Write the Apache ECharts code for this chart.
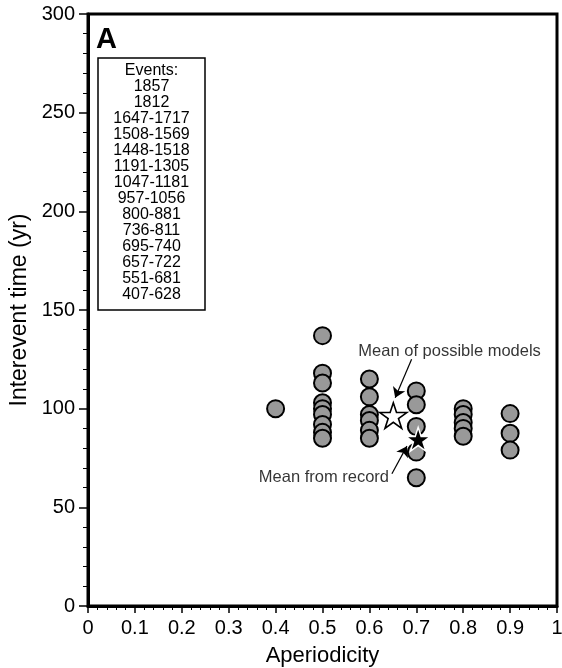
<!DOCTYPE html>
<html>
<head>
<meta charset="utf-8">
<script src="https://cdn.jsdelivr.net/npm/echarts@6/dist/echarts.min.js"></script>
<style>
html,body{margin:0;padding:0;background:#fff;}
#c{width:562px;height:668px;}
</style>
</head>
<body>
<div id="c"></div>
<script>
// ---- data ----
const aperiodicity = [0.4,
  0.5,0.5,0.5,0.5,0.5,0.5,0.5,0.5,0.5,
  0.6,0.6,0.6,0.6,0.6,0.6,
  0.7,0.7,0.7,0.7,0.7,
  0.8,0.8,0.8,0.8,0.8,
  0.9,0.9,0.9];
const intereventTime = [100,
  137,118,113,103,100,97,92,88,85,
  115,106,97,94,89,85,
  109,102,91,78,65,
  100,97,93,90,86,
  97.5,87.5,79];
const meanModels = [0.651, 96.5];
const meanRecord = [0.704, 84.5];
const eventsTitle = 'Events:';
const events = ['1857','1812','1647-1717','1508-1569','1448-1518','1191-1305','1047-1181',
  '957-1056','800-881','736-811','695-740','657-722','551-681','407-628'];
const xTicks = [0,0.1,0.2,0.3,0.4,0.5,0.6,0.7,0.8,0.9,1];
const yTicks = [0,50,100,150,200,250,300];
const annotationText = ['Mean of possible models','Mean from record'];
const annotationPos = [[0.771,128.9],[0.503,65.2]];
const arrowModels = [[0.690,125],[0.655,105.5]];
const arrowRecord = [[0.648,67],[0.680,81]];

const FONT = 'Liberation Sans, Arial, Helvetica, sans-serif';
const starPath = 'path://M100 0L122.45 69.1L195.1 69.1L136.3 111.8L158.8 180.9L100 138.2L41.2 180.9L63.7 111.8L4.9 69.1L77.55 69.1Z';

const chart = echarts.init(document.getElementById('c'), null, {renderer:'canvas'});

const pts = aperiodicity.map((x,i)=>[x, intereventTime[i]]);

chart.setOption({
  animation:false,
  backgroundColor:'#fff',
  grid:{left:88, right:5, top:14, bottom:62, show:true, borderColor:'#000', borderWidth:3,
        containLabel:false, outerBoundsMode:'none'},
  xAxis:{
    type:'value', min:xTicks[0], max:xTicks[xTicks.length-1], interval:0.1,
    name:'Aperiodicity', nameLocation:'middle', nameGap:39,
    nameTextStyle:{fontFamily:FONT, fontSize:22, color:'#000'},
    axisLine:{show:true, lineStyle:{color:'#000', width:3}},
    axisTick:{show:true, length:7, lineStyle:{color:'#000', width:1.5}},
    minorTick:{show:true, splitNumber:5, length:4, lineStyle:{color:'#000', width:1}},
    axisLabel:{fontFamily:FONT, fontSize:20, color:'#000', margin:12,
      formatter:v=>String(+v.toFixed(1))},
    splitLine:{show:false}
  },
  yAxis:{
    type:'value', min:yTicks[0], max:yTicks[yTicks.length-1], interval:50,
    name:'Interevent time (yr)', nameLocation:'middle', nameGap:53,
    nameTextStyle:{fontFamily:FONT, fontSize:23, color:'#000'},
    axisLine:{show:true, lineStyle:{color:'#000', width:3}},
    axisTick:{show:true, length:9, lineStyle:{color:'#000', width:1.5}},
    minorTick:{show:true, splitNumber:5, length:5, lineStyle:{color:'#000', width:1}},
    axisLabel:{fontFamily:FONT, fontSize:20, color:'#000', margin:13},
    splitLine:{show:false}
  },
  series:[
    {
      type:'scatter', name:'models', data:pts, symbol:'circle', symbolSize:17,
      itemStyle:{color:'#999999', borderColor:'#000', borderWidth:2, opacity:1},
      z:2
    },
    {
      type:'scatter', name:'mean models', data:[meanModels], symbol:starPath, symbolSize:27,
      symbolKeepAspect:true,
      itemStyle:{color:'#fff', borderColor:'#000', borderWidth:1.6, opacity:1},
      z:3
    },
    {
      type:'scatter', name:'mean record', data:[meanRecord], symbol:starPath, symbolSize:25,
      symbolKeepAspect:true,
      itemStyle:{color:'#000', borderColor:'#fff', borderWidth:1.5, opacity:1},
      z:4
    },
    {
      type:'scatter', name:'annotations', symbolSize:0, z:5,
      data:annotationPos.map((p,i)=>({value:p, name:annotationText[i]})),
      label:{show:true, position:'inside', formatter:p=>p.name,
             fontFamily:FONT, fontSize:16.5, color:'#000', textBorderWidth:0},
      markLine:{
        silent:true, symbol:['none','arrow'], symbolSize:10,
        label:{show:false}, animation:false,
        lineStyle:{color:'#000', width:1.2, type:'solid'},
        itemStyle:{color:'#000'},
        data:[
          [{coord:arrowModels[0]},{coord:arrowModels[1]}],
          [{coord:arrowRecord[0], lineStyle:{curveness:0.25}},{coord:arrowRecord[1]}]
        ]
      }
    }
  ],
  graphic:[
    {type:'text', left:96, top:25, style:{text:'A', font:'bold 29px '+FONT, fill:'#000'}},
    {type:'rect', shape:{x:98, y:58, width:107, height:252},
     style:{fill:'#fff', stroke:'#000', lineWidth:1.5}, z:10},
    {type:'text', x:151.5, y:63, z:11,
     style:{text:[eventsTitle].concat(events).join('\n'), font:'16px '+FONT,
            lineHeight:16, align:'center', verticalAlign:'top', fill:'#000'}}
  ]
});
</script>
</body>
</html>
